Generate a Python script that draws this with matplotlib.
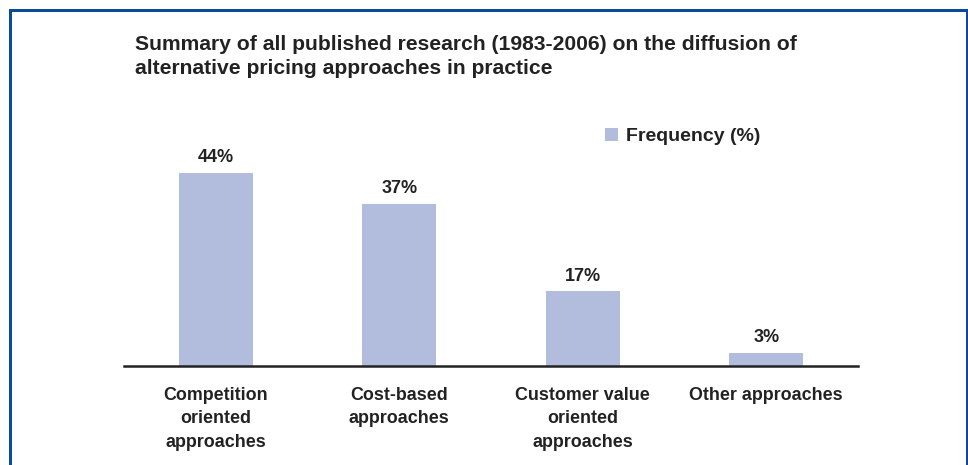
import matplotlib.pyplot as plt
from matplotlib.lines import Line2D

plt.rcParams['font.family'] = ['Liberation Sans', 'DejaVu Sans']

categories = ["Competition\noriented\napproaches", "Cost-based\napproaches",
              "Customer value\noriented\napproaches", "Other approaches"]
frequency = [44, 37, 17, 3]
value_labels = ["44%", "37%", "17%", "3%"]

bar_color = "#b2bcdc"
text_color = "#222222"
frame_color = "#0b4a96"

W, H = 968, 465
fig = plt.figure(figsize=(W / 100, H / 100), dpi=100)
ax = fig.add_axes([124 / W, 99 / H, (858 - 124) / W, 219.5 / H])

x = list(range(len(categories)))
bars = ax.bar(x, frequency, width=0.404, color=bar_color, label="Frequency (%)", zorder=2)
for xi, v, lab in zip(x, frequency, value_labels):
    ax.text(xi, v + 1.5, lab, ha="center", va="bottom", fontsize=13, fontweight="bold",
            color=text_color)

ax.set_xlim(-0.5, 3.5)
ax.set_ylim(0, 50)
ax.set_yticks([])
ax.set_xticks(x)
ax.set_xticklabels(categories, fontsize=12.9, fontweight="bold", color=text_color,
                   linespacing=1.5, va="top")
ax.tick_params(axis="x", length=0, pad=15)
for s in ["top", "right", "left"]:
    ax.spines[s].set_visible(False)
ax.spines["bottom"].set_linewidth(1.8)
ax.spines["bottom"].set_color("#222222")
ax.spines["bottom"].set_zorder(3)

leg = ax.legend(loc="upper left", bbox_to_anchor=((587 - 124) / (858 - 124), 1.165),
                frameon=False, handlelength=0.7, handleheight=0.7, handletextpad=0.4,
                prop={"weight": "bold", "size": 14})
for t in leg.get_texts():
    t.set_color(text_color)

fig.text(135 / W, 1 - 56.5 / H, "Summary of all published research (1983-2006) on the diffusion of\n"
         "alternative pricing approaches in practice", ha="left", va="center",
         fontsize=15.2, fontweight="bold", color=text_color, linespacing=1.4)

# blue frame (left, top, right; bottom is cut off)
lw = 3
fig.add_artist(Line2D([9.5 / W, 9.5 / W], [0, 1 - 10.5 / H], transform=fig.transFigure,
                      color=frame_color, linewidth=lw * 0.72))
fig.add_artist(Line2D([9.5 / W, 966.5 / W], [1 - 10.5 / H, 1 - 10.5 / H],
                      transform=fig.transFigure, color=frame_color, linewidth=lw * 0.72,
                      solid_capstyle="projecting"))
fig.add_artist(Line2D([966.5 / W, 966.5 / W], [0, 1 - 10.5 / H], transform=fig.transFigure,
                      color=frame_color, linewidth=lw * 0.72))

fig.savefig("out.png", dpi=100)
